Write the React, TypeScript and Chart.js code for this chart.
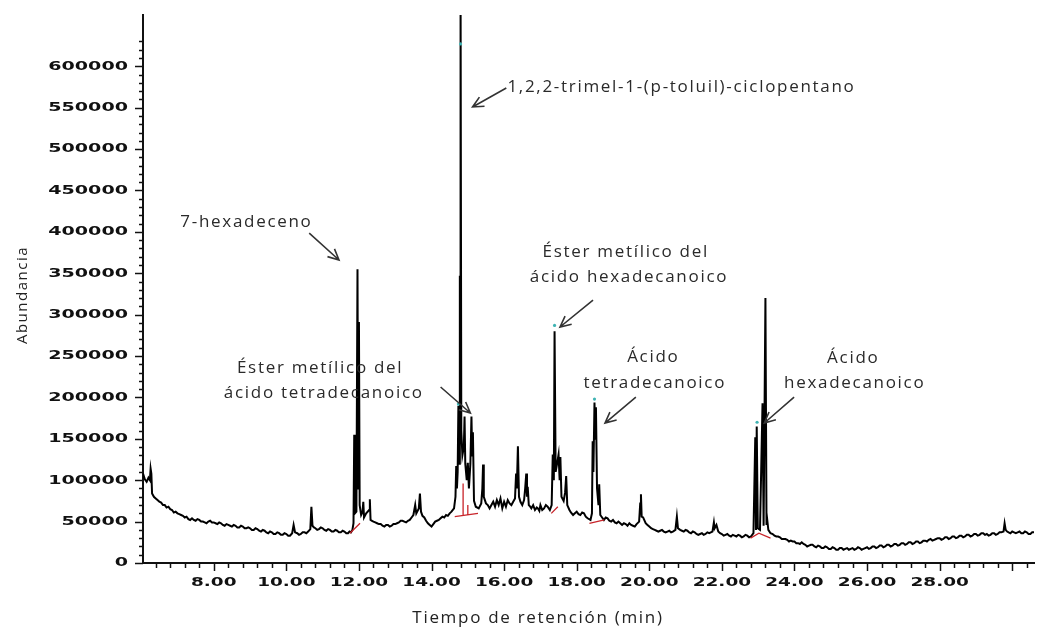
import React, { useEffect, useRef } from "react";
import { Chart, registerables } from "chart.js";

Chart.register(...registerables);

// ---- axis ranges ----
const X_MIN = 6.05;
const X_MAX = 30.6;
const Y_MAX = 662000;

// ---- tick labels ----
const yTickLabels = [0, 50000, 100000, 150000, 200000, 250000, 300000, 350000, 400000, 450000, 500000, 550000, 600000];
const yMinorStep = 10000;
const yMinorTop = 630000;
const xTickLabels = [8, 10, 12, 14, 16, 18, 20, 22, 24, 26, 28];
const xMinorStep = 0.4;
const xMinorFirst = 16; // 16 * 0.4 = 6.4
const xMinorLast = 76; // 76 * 0.4 = 30.4

// ---- chromatogram trace: [retention time (min), abundance] ----
const earlyBaseline: [number, number][] = [
  [6.05, 108000], [6.1, 101000], [6.15, 98000], [6.2, 103000], [6.24, 100000], [6.26, 114000], [6.28, 108000],
  [6.3, 84000], [6.35, 80000], [6.4, 78000], [6.45, 76000], [6.5, 74000], [6.55, 73000], [6.6, 70000], [6.65, 70000],
  [6.7, 67000], [6.75, 68000], [6.8, 65000], [6.85, 64000], [6.9, 61000], [6.95, 62000], [7.0, 60000], [7.05, 59000],
  [7.1, 58000], [7.15, 57000], [7.2, 55000], [7.25, 56000], [7.3, 53000], [7.35, 52000], [7.4, 54000], [7.45, 52000],
  [7.5, 51000], [7.55, 53000], [7.6, 52000], [7.65, 50000], [7.7, 50000], [7.75, 49000], [7.8, 48000], [7.85, 50000],
  [7.9, 51000], [7.95, 49000], [8.0, 49000], [8.05, 48000], [8.1, 47000], [8.15, 49000], [8.2, 48000], [8.25, 46000],
  [8.3, 45000], [8.35, 47000], [8.4, 46000], [8.45, 45000], [8.5, 44000], [8.55, 46000], [8.6, 45000], [8.65, 43000],
  [8.7, 43000], [8.75, 45000], [8.8, 44000], [8.85, 42000], [8.9, 42000], [8.95, 43000], [9.0, 42000], [9.05, 40000],
  [9.1, 40000], [9.15, 42000], [9.2, 41000], [9.25, 39000], [9.3, 38000], [9.35, 40000], [9.4, 39000], [9.45, 37000],
  [9.5, 36000], [9.55, 38000], [9.6, 37000], [9.65, 35000], [9.7, 35000], [9.75, 37000], [9.8, 36000], [9.85, 34000],
  [9.9, 34000], [9.95, 36000], [10.0, 35000], [10.05, 33000], [10.1, 33000], [10.16, 36000], [10.2, 46000],
  [10.24, 37000], [10.3, 36000], [10.35, 34000], [10.4, 35000], [10.45, 37000], [10.5, 37000], [10.55, 36000],
  [10.6, 38000], [10.66, 41000], [10.69, 68000], [10.72, 45000], [10.76, 43000], [10.8, 42000], [10.85, 40000],
  [10.9, 41000], [10.95, 43000], [11.0, 42000], [11.05, 40000], [11.1, 39000], [11.15, 41000], [11.2, 40000],
  [11.25, 38000], [11.3, 38000], [11.35, 40000], [11.4, 39000], [11.45, 37000], [11.5, 37000], [11.55, 39000],
  [11.6, 38000], [11.65, 36000], [11.7, 36000], [11.74, 38000], [11.78, 37000],
];

const hexadeceneRegion: [number, number][] = [
  [11.82, 40000], [11.85, 48000], [11.87, 155000], [11.89, 60000], [11.93, 62000], [11.96, 355000], [11.98, 90000],
  [12.0, 291000], [12.02, 70000], [12.06, 58000], [12.1, 62000], [12.12, 74000], [12.14, 55000], [12.2, 60000],
  [12.28, 64000], [12.3, 77000], [12.32, 52000], [12.36, 51000], [12.4, 50000], [12.45, 49000], [12.5, 48000],
  [12.55, 47000], [12.6, 47000], [12.65, 45000], [12.7, 44000], [12.75, 46000], [12.8, 46000], [12.85, 44000],
  [12.9, 45000], [12.95, 47000], [13.0, 47000], [13.05, 48000], [13.1, 49000], [13.15, 51000], [13.2, 51000],
  [13.25, 50000], [13.3, 49000], [13.35, 51000], [13.4, 52000], [13.45, 55000], [13.5, 58000], [13.55, 70000],
  [13.58, 60000], [13.65, 66000], [13.68, 84000], [13.71, 62000], [13.75, 57000], [13.8, 55000], [13.85, 51000],
  [13.9, 48000], [13.95, 46000], [14.0, 44000], [14.05, 47000], [14.1, 50000], [14.15, 51000], [14.2, 52000],
  [14.25, 54000], [14.3, 56000], [14.35, 55000], [14.4, 58000], [14.45, 57000], [14.5, 60000], [14.55, 62000],
];

const mainCluster: [number, number][] = [
  [14.62, 66000], [14.66, 80000], [14.68, 117000], [14.7, 90000], [14.72, 110000], [14.74, 190000], [14.76, 120000],
  [14.78, 347000], [14.795, 180000], [14.8, 700000], [14.82, 160000], [14.85, 130000], [14.89, 140000],
  [14.91, 177000], [14.93, 120000], [14.97, 100000], [15.0, 121000], [15.03, 90000], [15.07, 120000],
  [15.1, 177000], [15.12, 130000], [15.14, 158000], [15.17, 75000], [15.22, 68000], [15.3, 66000], [15.37, 72000],
  [15.4, 90000], [15.42, 119000], [15.44, 80000], [15.5, 72000], [15.55, 70000], [15.6, 66000], [15.65, 70000],
  [15.7, 74000], [15.75, 68000], [15.8, 76000], [15.85, 70000], [15.9, 78000], [15.95, 66000], [16.0, 74000],
  [16.05, 68000], [16.1, 76000], [16.15, 72000], [16.2, 70000], [16.25, 74000], [16.3, 78000], [16.33, 108000],
  [16.35, 90000], [16.38, 141000], [16.41, 80000], [16.45, 74000], [16.5, 70000], [16.55, 76000], [16.58, 90000],
  [16.61, 108000], [16.63, 80000], [16.65, 92000], [16.68, 70000], [16.72, 68000], [16.75, 66000], [16.8, 70000],
  [16.85, 64000], [16.9, 67000], [16.93, 66000], [16.97, 63000],
];

const midRegion: [number, number][] = [
  [17.0, 70000], [17.05, 64000], [17.1, 66000], [17.15, 70000], [17.2, 68000], [17.26, 64000], [17.31, 70000],
  [17.34, 131000], [17.37, 100000], [17.39, 280000], [17.42, 110000], [17.46, 120000], [17.5, 131000],
  [17.53, 100000], [17.55, 128000], [17.58, 80000], [17.64, 75000], [17.68, 85000], [17.71, 105000],
  [17.74, 70000], [17.8, 64000], [17.84, 61000], [17.9, 58000], [17.95, 60000], [18.0, 62000], [18.05, 59000],
  [18.1, 58000], [18.15, 61000], [18.2, 60000], [18.25, 56000], [18.3, 54000], [18.38, 52000], [18.42, 60000],
  [18.44, 147000], [18.46, 110000], [18.49, 194000], [18.51, 150000], [18.53, 188000], [18.56, 90000],
  [18.6, 70000], [18.62, 95000], [18.65, 58000], [18.7, 55000], [18.75, 52000], [18.8, 55000], [18.85, 54000],
  [18.9, 51000], [18.95, 50000], [19.0, 52000], [19.05, 49000], [19.1, 48000], [19.15, 50000], [19.2, 48000],
  [19.25, 46000], [19.3, 48000], [19.35, 47000], [19.4, 45000], [19.45, 48000], [19.5, 46000], [19.55, 45000],
  [19.6, 44000], [19.65, 47000], [19.72, 50000], [19.75, 72000], [19.77, 83000], [19.79, 56000], [19.83, 55000],
  [19.86, 52000], [19.9, 48000], [19.95, 46000], [20.0, 44000], [20.05, 42000], [20.1, 41000], [20.15, 40000],
  [20.2, 39000], [20.25, 38000], [20.3, 39000], [20.35, 40000], [20.4, 38000], [20.45, 37000], [20.5, 38000],
  [20.55, 39000], [20.6, 37000], [20.65, 38000], [20.72, 40000], [20.76, 56000], [20.79, 42000], [20.85, 40000],
  [20.9, 39000], [20.95, 38000], [21.0, 40000], [21.05, 39000], [21.1, 37000], [21.15, 36000], [21.2, 38000],
  [21.25, 37000], [21.3, 35000], [21.35, 34000], [21.4, 35000], [21.45, 36000], [21.5, 34000], [21.55, 35000],
  [21.6, 37000], [21.65, 36000], [21.74, 38000], [21.78, 49000], [21.8, 42000], [21.85, 46000], [21.9, 38000],
  [21.95, 36000], [22.0, 35000], [22.05, 33000], [22.1, 34000], [22.15, 35000], [22.2, 33000], [22.25, 32000],
  [22.3, 34000], [22.35, 33000], [22.4, 32000], [22.45, 34000], [22.5, 33000], [22.55, 31000], [22.6, 32000],
  [22.65, 34000], [22.7, 33000], [22.75, 31000], [22.8, 32000],
];

const lateRegion: [number, number][] = [
  [22.87, 36000], [22.92, 152000], [22.94, 40000], [22.96, 165000], [22.99, 42000], [23.05, 40000],
  [23.12, 193000], [23.15, 45000], [23.2, 320000], [23.23, 46000], [23.25, 52000], [23.28, 40000], [23.34, 36000],
  [23.4, 35000], [23.45, 33000], [23.5, 32000], [23.55, 32000], [23.6, 31000], [23.65, 29000], [23.7, 29000],
  [23.75, 29000], [23.8, 28000], [23.85, 26000], [23.9, 27000], [23.95, 26000], [24.0, 26000], [24.05, 24000],
  [24.1, 24000], [24.15, 23000], [24.2, 25000], [24.25, 23000], [24.3, 22000], [24.35, 20000], [24.4, 21000],
  [24.45, 22000], [24.5, 22000], [24.55, 20000], [24.6, 19000], [24.65, 21000], [24.7, 20000], [24.75, 18000],
  [24.8, 18000], [24.85, 20000], [24.9, 19000], [24.95, 17000], [25.0, 17000], [25.05, 19000], [25.1, 18000],
  [25.15, 16000], [25.2, 16000], [25.25, 18000], [25.3, 18000], [25.35, 16000], [25.4, 17000], [25.45, 18000],
  [25.5, 16000], [25.55, 17000], [25.6, 18000], [25.65, 16000], [25.7, 17000], [25.75, 19000], [25.8, 18000],
  [25.85, 16000], [25.9, 17000], [25.95, 18000], [26.0, 19000], [26.05, 17000], [26.1, 18000], [26.15, 20000],
  [26.2, 20000], [26.25, 18000], [26.3, 19000], [26.35, 21000], [26.4, 21000], [26.45, 19000], [26.5, 20000],
  [26.55, 22000], [26.6, 22000], [26.65, 20000], [26.7, 21000], [26.75, 23000], [26.8, 23000], [26.85, 21000],
  [26.9, 22000], [26.95, 24000], [27.0, 24000], [27.05, 22000], [27.1, 23000], [27.15, 25000], [27.2, 25000],
  [27.25, 23000], [27.3, 24000], [27.35, 26000], [27.4, 26000], [27.45, 24000], [27.5, 25000], [27.55, 27000],
  [27.6, 27000], [27.65, 26000], [27.7, 28000], [27.75, 29000], [27.8, 27000], [27.85, 28000], [27.9, 29000],
  [27.95, 30000], [28.0, 30000], [28.05, 28000], [28.1, 29000], [28.15, 31000], [28.2, 31000], [28.25, 29000],
  [28.3, 30000], [28.35, 32000], [28.4, 32000], [28.45, 30000], [28.5, 31000], [28.55, 33000], [28.6, 33000],
  [28.65, 31000], [28.7, 32000], [28.75, 34000], [28.8, 34000], [28.85, 32000], [28.9, 33000], [28.95, 35000],
  [29.0, 35000], [29.05, 33000], [29.1, 34000], [29.15, 36000], [29.2, 36000], [29.25, 34000], [29.3, 35000],
  [29.35, 33000], [29.4, 34000], [29.45, 36000], [29.5, 36000], [29.55, 34000], [29.6, 35000], [29.65, 37000],
  [29.7, 37000], [29.76, 38000], [29.79, 48000], [29.82, 40000], [29.86, 38000], [29.9, 37000], [29.95, 36000],
  [30.0, 38000], [30.05, 37000], [30.1, 36000], [30.15, 37000], [30.2, 38000], [30.25, 36000], [30.3, 36000],
  [30.35, 38000], [30.4, 37000], [30.45, 35000], [30.5, 35000], [30.55, 37000], [30.6, 37000],
];

// ---- integration baselines (red) ----
const integrationBaselines: [number, number][][] = [
  [[11.75, 36000], [12.03, 48000]],
  [[14.64, 56000], [15.28, 60000]],
  [[14.87, 57000], [14.87, 96000]],
  [[15.0, 58000], [15.0, 70000]],
  [[17.3, 60000], [17.48, 68000]],
  [[18.35, 48000], [18.76, 52000]],
  [[22.79, 30000], [23.02, 36000], [23.34, 30000]],
];

// ---- apex markers (cyan) ----
const apexMarkers: [number, number][] = [
  [14.8, 627000], [14.74, 192000], [17.39, 287000], [18.49, 198000], [22.97, 170000],
];

// ---- annotations (data coordinates) ----
const annotationTexts = [
  { text: "7-hexadeceno", t: 8.9, v: 405900, align: "center" },
  { text: "Éster metílico del", t: 10.93, v: 229500, align: "center" },
  { text: "ácido tetradecanoico", t: 11.03, v: 199300, align: "center" },
  { text: "1,2,2-trimel-1-(p-toluil)-ciclopentano", t: 16.09, v: 569000, align: "left" },
  { text: "Éster metílico del", t: 19.35, v: 369700, align: "center" },
  { text: "ácido hexadecanoico", t: 19.44, v: 339500, align: "center" },
  { text: "Ácido", t: 20.11, v: 242800, align: "center" },
  { text: "tetradecanoico", t: 20.15, v: 211400, align: "center" },
  { text: "Ácido", t: 25.62, v: 241600, align: "center" },
  { text: "hexadecanoico", t: 25.66, v: 211400, align: "center" },
];

const annotationArrows: { from: [number, number]; to: [number, number] }[] = [
  { from: [10.63, 398600], to: [11.45, 366000] },
  { from: [14.25, 212600], to: [15.07, 181200] },
  { from: [16.06, 573800], to: [15.13, 550900] },
  { from: [18.45, 317700], to: [17.54, 285100] },
  { from: [19.63, 200500], to: [18.78, 169100] },
  { from: [23.99, 200500], to: [23.17, 169100] },
];

const xTitle = "Tiempo de retención (min)";
const yTitle = "Abundancia";

const toXY = (pts: [number, number][]) => pts.map(([x, y]) => ({ x, y }));

const axesPlugin = {
  id: "chromAxes",
  afterDraw(chart: any) {
    const ctx: CanvasRenderingContext2D = chart.ctx;
    const xs = chart.scales.x;
    const ys = chart.scales.y;
    const area = chart.chartArea;
    ctx.save();
    ctx.strokeStyle = "#111";
    ctx.fillStyle = "#111";
    ctx.lineWidth = 1.5;

    // y ticks
    for (let v = 0; v <= yMinorTop; v += yMinorStep) {
      const py = Math.round(ys.getPixelForValue(v)) + 0.5;
      const major = v % 50000 === 0;
      ctx.beginPath();
      ctx.moveTo(area.left - (major ? 8 : 4), py);
      ctx.lineTo(area.left, py);
      ctx.stroke();
    }
    ctx.font = 'bold 13px "DejaVu Sans"';
    ctx.textAlign = "right";
    ctx.textBaseline = "middle";
    for (const v of yTickLabels) {
      const py = ys.getPixelForValue(v);
      ctx.save();
      ctx.translate(area.left - 15, py);
      ctx.scale(1.47, 1);
      ctx.fillText(String(v), 0, 0);
      ctx.restore();
    }

    // x ticks
    for (let i = xMinorFirst; i <= xMinorLast; i++) {
      const t = i * xMinorStep;
      const px = Math.round(xs.getPixelForValue(t)) + 0.5;
      const major = i % 5 === 0;
      ctx.beginPath();
      ctx.moveTo(px, area.bottom);
      ctx.lineTo(px, area.bottom + (major ? 8 : 5));
      ctx.stroke();
    }
    ctx.textAlign = "center";
    for (const t of xTickLabels) {
      const px = xs.getPixelForValue(t);
      ctx.save();
      ctx.translate(px, area.bottom + 20);
      ctx.scale(1.42, 1);
      ctx.fillText(t.toFixed(2), 0, 0);
      ctx.restore();
    }

    // axis titles
    ctx.fillStyle = "#222";
    ctx.font = '15px "Open Sans"';
    (ctx as any).letterSpacing = "1.5px";
    ctx.save();
    ctx.translate(27, 295);
    ctx.rotate(-Math.PI / 2);
    ctx.textAlign = "center";
    ctx.textBaseline = "alphabetic";
    ctx.fillText(yTitle, 0, 0);
    ctx.restore();

    ctx.font = '17px "Open Sans"';
    (ctx as any).letterSpacing = "1.7px";
    ctx.textAlign = "center";
    ctx.textBaseline = "alphabetic";
    ctx.fillText(xTitle, 538, 623);

    // annotations
    ctx.fillStyle = "#2a2a2a";
    ctx.font = '17px "Open Sans"';
    (ctx as any).letterSpacing = "1.7px";
    for (const a of annotationTexts) {
      ctx.textAlign = a.align as CanvasTextAlign;
      ctx.fillText(a.text, xs.getPixelForValue(a.t), ys.getPixelForValue(a.v));
    }
    (ctx as any).letterSpacing = "0px";

    ctx.strokeStyle = "#333";
    ctx.lineWidth = 1.6;
    for (const ar of annotationArrows) {
      const x1 = xs.getPixelForValue(ar.from[0]);
      const y1 = ys.getPixelForValue(ar.from[1]);
      const x2 = xs.getPixelForValue(ar.to[0]);
      const y2 = ys.getPixelForValue(ar.to[1]);
      const ang = Math.atan2(y2 - y1, x2 - x1);
      const L = 12;
      const spread = 0.45;
      ctx.beginPath();
      ctx.moveTo(x1, y1);
      ctx.lineTo(x2, y2);
      ctx.moveTo(x2 - L * Math.cos(ang - spread), y2 - L * Math.sin(ang - spread));
      ctx.lineTo(x2, y2);
      ctx.lineTo(x2 - L * Math.cos(ang + spread), y2 - L * Math.sin(ang + spread));
      ctx.stroke();
    }
    ctx.restore();
  },
};

export default function App() {
  const ref = useRef<HTMLCanvasElement>(null);

  useEffect(() => {
    if (!ref.current) return;
    const trace = toXY([...earlyBaseline, ...hexadeceneRegion, ...mainCluster, ...midRegion, ...lateRegion]);
    const redPts: { x: number; y: number | null }[] = [];
    integrationBaselines.forEach((seg) => {
      seg.forEach(([x, y]) => redPts.push({ x, y }));
      redPts.push({ x: seg[seg.length - 1][0], y: null });
    });

    const chart = new Chart(ref.current, {
      type: "line",
      data: {
        datasets: [
          {
            label: "apex",
            data: toXY(apexMarkers),
            showLine: false,
            pointRadius: 1.6,
            pointBackgroundColor: "#3fb3b3",
            pointBorderColor: "#3fb3b3",
            pointBorderWidth: 0,
          } as any,
          {
            label: "baseline",
            data: redPts as any,
            borderColor: "#c8242a",
            borderWidth: 1.3,
            pointRadius: 0,
            spanGaps: false,
            tension: 0,
          },
          {
            label: "TIC",
            data: trace,
            borderColor: "#000",
            borderWidth: 2,
            pointRadius: 0,
            tension: 0,
            borderJoinStyle: "miter",
          } as any,
        ],
      },
      options: {
        animation: false,
        responsive: false,
        events: [],
        layout: { padding: { left: 143, top: 15, right: 0, bottom: 66 } },
        plugins: { legend: { display: false }, tooltip: { enabled: false } },
        scales: {
          x: {
            type: "linear",
            min: X_MIN,
            max: X_MAX,
            grid: { display: false, drawTicks: false },
            ticks: { display: false },
            border: { display: true, color: "#111", width: 2 },
            afterFit: (s: any) => {
              s.height = 0;
            },
          },
          y: {
            type: "linear",
            min: 0,
            max: Y_MAX,
            grid: { display: false, drawTicks: false },
            ticks: { display: false },
            border: { display: true, color: "#111", width: 2 },
            afterFit: (s: any) => {
              s.width = 0;
            },
          },
        },
      },
      plugins: [axesPlugin],
    });
    return () => chart.destroy();
  }, []);

  return (
    <div style={{ position: "fixed", left: 0, top: 0, width: 1038, height: 629, background: "#fff" }}>
      <canvas ref={ref} width={1038} height={629} style={{ display: "block" }} />
    </div>
  );
}
